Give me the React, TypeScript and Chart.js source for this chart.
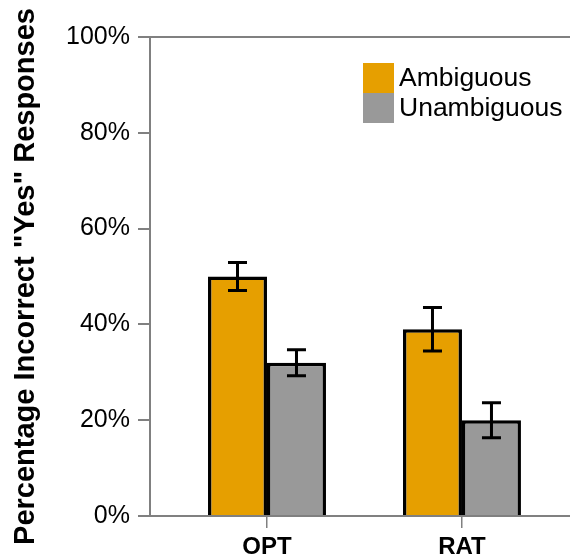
import React, { useEffect, useRef } from "react";
import { Chart, registerables } from "chart.js";

Chart.register(...registerables);

// ---- data ----
const categories = ["OPT", "RAT"];
const seriesLabels = ["Ambiguous", "Unambiguous"];
const ambiguousValues = [50, 39];
const unambiguousValues = [32, 20];
const ambiguousErrors = [2.9, 4.55];
const unambiguousErrors = [2.7, 3.65];
const yTickValues = [0, 20, 40, 60, 80, 100];
const seriesColors = ["#E69F00", "#999999"];
const yAxisTitle = 'Percentage Incorrect "Yes" Responses';

const seriesValues = [ambiguousValues, unambiguousValues];
const seriesErrors = [ambiguousErrors, unambiguousErrors];

const FONT = "'Liberation Sans', Arial, Helvetica, sans-serif";
const AXIS = "#808080";

const errorBarPlugin = {
  id: "errorBars",
  afterDatasetsDraw(chart: any) {
    const { ctx } = chart;
    const yScale = chart.scales.y;
    chart.data.datasets.forEach((ds: any, i: number) => {
      const meta = chart.getDatasetMeta(i);
      const errs = seriesErrors[i];
      meta.data.forEach((bar: any, j: number) => {
        const v = seriesValues[i][j];
        const top = yScale.getPixelForValue(v + errs[j]);
        const bottom = yScale.getPixelForValue(v - errs[j]);
        const x = bar.x;
        const hw = 9.5;
        ctx.save();
        ctx.strokeStyle = "#000";
        ctx.lineWidth = 3;
        ctx.beginPath();
        ctx.moveTo(x, top);
        ctx.lineTo(x, bottom);
        ctx.moveTo(x - hw, top);
        ctx.lineTo(x + hw, top);
        ctx.moveTo(x - hw, bottom);
        ctx.lineTo(x + hw, bottom);
        ctx.stroke();
        ctx.restore();
      });
    });
  },
};

const boxLegendPlugin = {
  id: "boxLegend",
  afterDraw(chart: any) {
    const { ctx, chartArea } = chart;
    const x0 = chartArea.right - 207;
    const y0 = chartArea.top + 26;
    const bw = 31;
    const bh = 30;
    ctx.save();
    chart.data.datasets.forEach((ds: any, i: number) => {
      ctx.fillStyle = ds.backgroundColor;
      ctx.fillRect(x0, y0 + i * bh, bw, bh);
      ctx.fillStyle = "#000";
      ctx.font = `26.5px ${FONT}`;
      ctx.textBaseline = "middle";
      ctx.textAlign = "left";
      ctx.fillText(ds.label, x0 + bw + 5, y0 + i * bh + bh / 2 + 1);
    });
    ctx.restore();
  },
};

export default function App() {
  const canvasRef = useRef<HTMLCanvasElement | null>(null);

  useEffect(() => {
    if (!canvasRef.current) return;
    const chart = new Chart(canvasRef.current, {
      type: "bar",
      data: {
        datasets: seriesLabels.map((label, i) => ({
          label,
          data: seriesValues[i].map((v, j) => ({ x: j, y: v })),
          backgroundColor: seriesColors[i],
          borderColor: "#000",
          borderWidth: 3.5,
          categoryPercentage: 0.605,
          barPercentage: 1,
        })),
      },
      options: {
        responsive: false,
        animation: false,
        devicePixelRatio: 1,
        layout: { padding: { top: 37, left: 0, right: 0, bottom: 0 } },
        plugins: { legend: { display: false }, tooltip: { enabled: false } },
        scales: {
          x: {
            type: "linear",
            min: -0.6,
            max: 1.554,
            offset: false,
            afterBuildTicks: (s: any) => {
              s.ticks = categories.map((_, i) => ({ value: i }));
            },
            afterFit: (s: any) => {
              s.height = 44;
            },
            ticks: {
              callback: (v: any) => categories[v] ?? "",
              color: "#000",
              font: { size: 24, weight: "bold", family: FONT },
              padding: 5,
              autoSkip: false,
              maxRotation: 0,
            },
            grid: {
              offset: false,
              drawOnChartArea: false,
              color: AXIS,
              tickColor: AXIS,
              tickLength: 12,
              lineWidth: 1.5,
            },
            border: { display: true, color: AXIS, width: 2 },
          },
          y: {
            type: "linear",
            min: 0,
            max: 100,
            afterBuildTicks: (s: any) => {
              s.ticks = yTickValues.map((v) => ({ value: v }));
            },
            afterFit: (s: any) => {
              s.width = 150;
            },
            ticks: {
              callback: (v: any) => `${v}%`,
              color: "#000",
              font: { size: 25, family: FONT },
              padding: 8,
            },
            grid: {
              drawOnChartArea: true,
              color: (ctx: any) =>
                ctx.tick && ctx.tick.value === 100 ? AXIS : "rgba(0,0,0,0)",
              tickColor: AXIS,
              tickLength: 12,
              lineWidth: 2,
            },
            border: { display: true, color: AXIS, width: 2 },
            title: {
              display: true,
              text: yAxisTitle,
              color: "#000",
              font: { size: 29, weight: "bold", family: FONT },
              padding: { top: 9, bottom: 0 },
            },
          },
        },
      },
      plugins: [errorBarPlugin, boxLegendPlugin],
    } as any);
    return () => chart.destroy();
  }, []);

  return (
    <div style={{ position: "absolute", left: 0, top: 0, width: 570, height: 560, background: "#fff" }}>
      <canvas ref={canvasRef} width={570} height={560} />
    </div>
  );
}
